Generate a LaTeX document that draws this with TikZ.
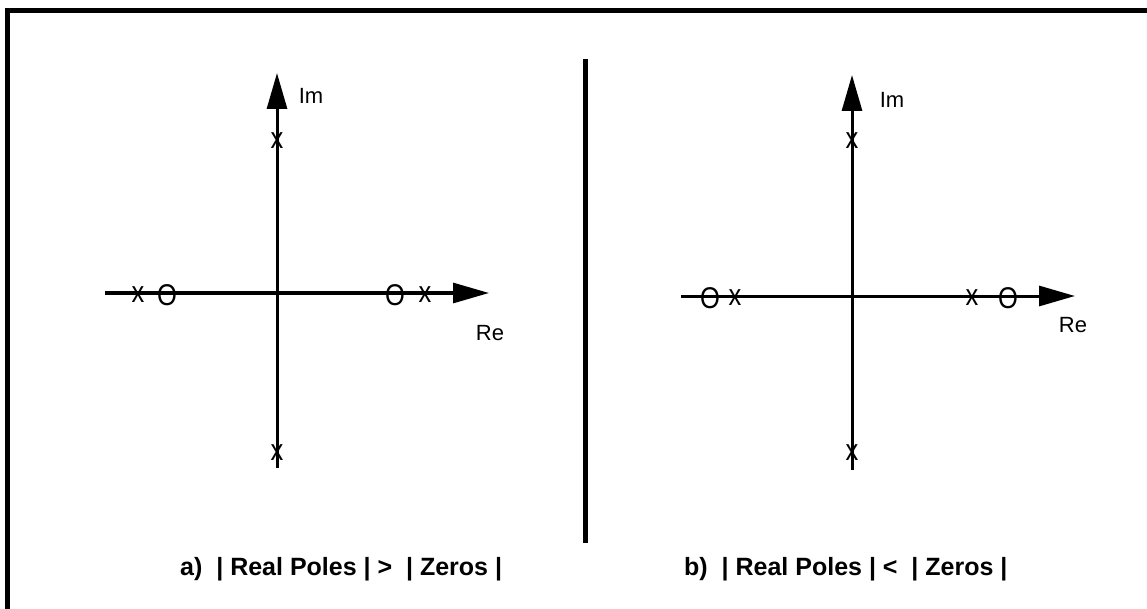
\documentclass[tikz,border=0pt]{standalone}
\usepackage{fontspec}
\setmainfont{Liberation Sans}
\usetikzlibrary{arrows.meta}
\begin{document}
\begin{tikzpicture}[x=1pt,y=-1pt,
  axis/.style={line width=3pt,-{Triangle[length=36pt,width=20pt]}},
  pzmark/.style={inner sep=0pt,xscale=0.85,font=\fontsize{30}{30}\selectfont},
  axlabel/.style={inner sep=0pt,font=\fontsize{22}{22}\selectfont},
  caption/.style={inner sep=0pt,anchor=base west,font=\fontsize{25}{25}\selectfont\bfseries}]
\useasboundingbox (0,0) rectangle (1147,609);
\begin{scope}
\clip (0,0) rectangle (1147,609);
\draw[line width=5pt] (7,10.5) rectangle (1153,611);
\end{scope}
% divider
\coordinate (dT) at (585.5,59);
\coordinate (dB) at (585.5,543);
\draw[line width=5pt] (dT) -- (dB);
% left diagram
\coordinate (aL) at (105,293);
\coordinate (aR) at (489,293);
\coordinate (aB) at (277,468);
\coordinate (aT) at (277,73);
\draw[axis] (aL) -- (aR);
\draw[axis] (aB) -- (aT);
\node[pzmark] (ax1) at (277,141) {x};
\node[pzmark] (ax2) at (277,453) {x};
\node[pzmark] (ax3) at (138,295) {x};
\node[pzmark] (ao1) at (167,295) {O};
\node[pzmark] (ao2) at (395,295) {O};
\node[pzmark] (ax4) at (425,295) {x};
\node[axlabel] (aIm) at (311,96) {Im};
\node[axlabel] (aRe) at (490,333) {Re};
% right diagram
\coordinate (bL) at (681,296);
\coordinate (bR) at (1075,296);
\coordinate (bB) at (852,470);
\coordinate (bT) at (852,75);
\draw[axis] (bL) -- (bR);
\draw[axis] (bB) -- (bT);
\node[pzmark] (bx1) at (852,141) {x};
\node[pzmark] (bx2) at (852,453) {x};
\node[pzmark] (bo1) at (710,298) {O};
\node[pzmark] (bx3) at (735,298) {x};
\node[pzmark] (bx4) at (972,298) {x};
\node[pzmark] (bo2) at (1008,298) {O};
\node[axlabel] (bIm) at (892,100) {Im};
\node[axlabel] (bRe) at (1073,325) {Re};
% captions
\node[caption] (capA) at (180,575) {a)\ \ | Real Poles | >\ \ | Zeros |};
\node[caption] (capB) at (684,575) {b)\ \ | Real Poles | <\ \ | Zeros |};
\end{tikzpicture}
\end{document}
